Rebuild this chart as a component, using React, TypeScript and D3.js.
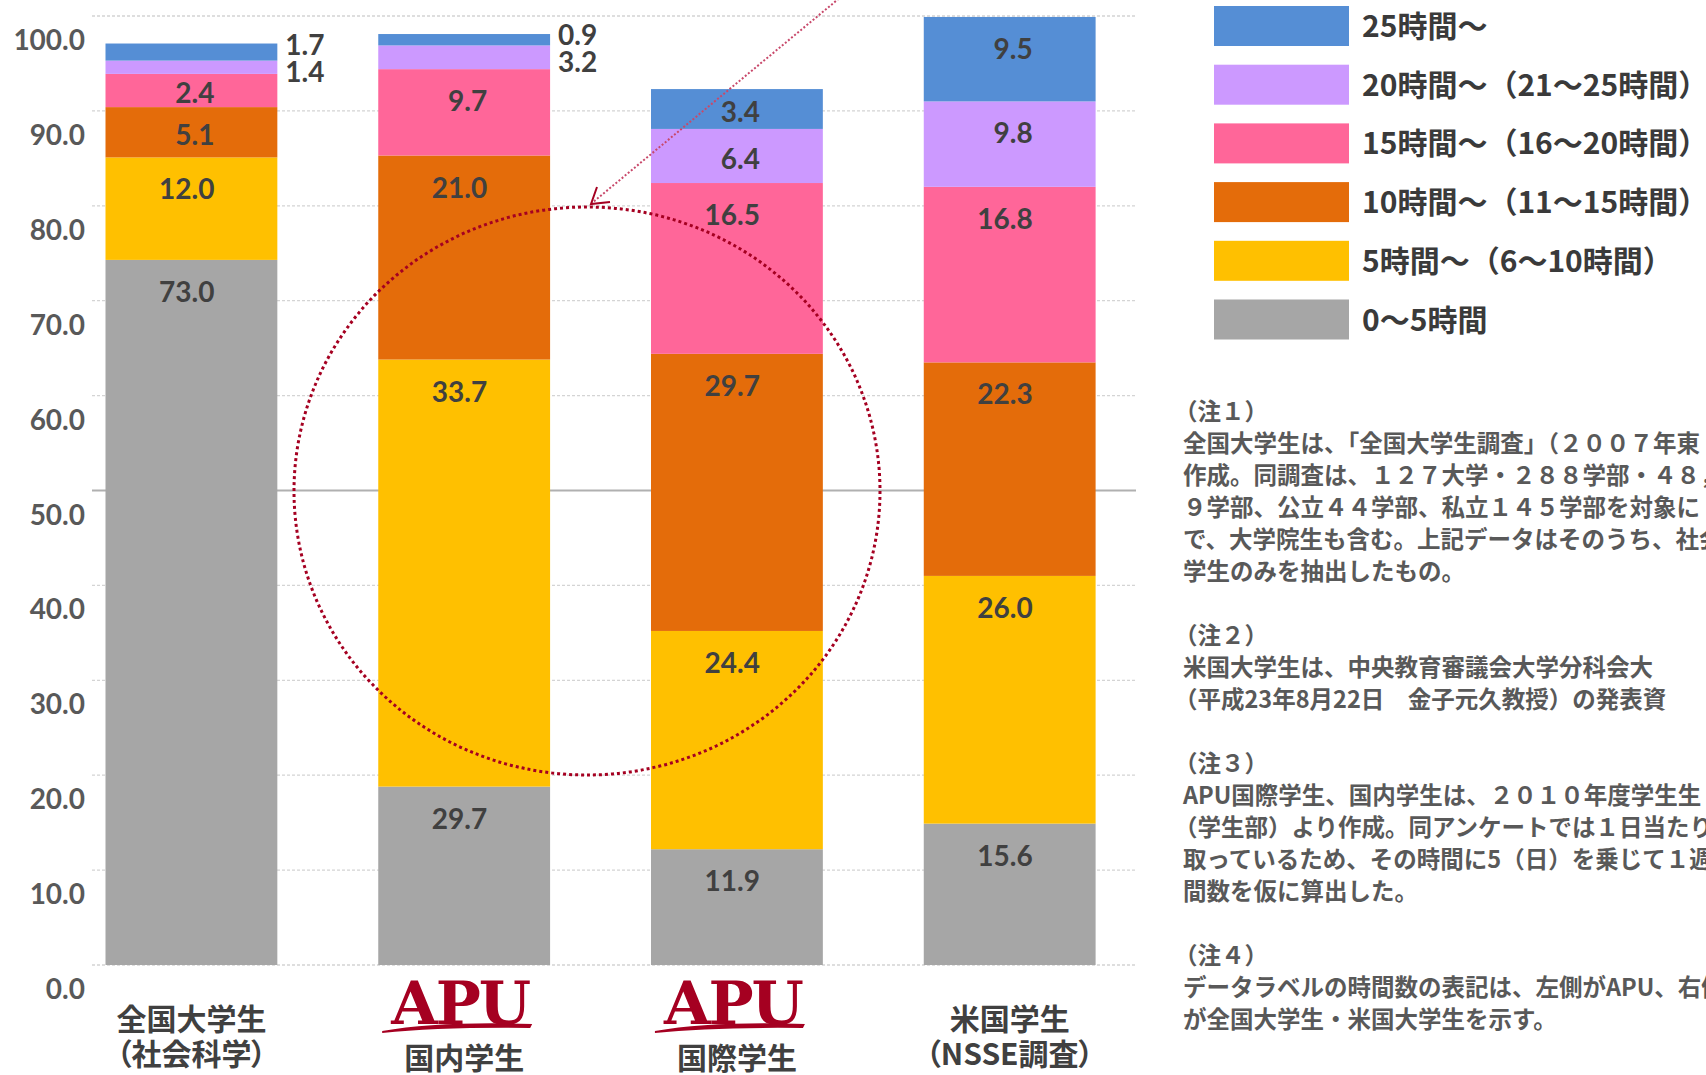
import React from "react";
import * as d3 from "d3";

const categories = ["全国大学生", "国内学生", "国際学生", "米国学生"];
const categoryLines = [["全国大学生", "（社会科学）"], ["国内学生"], ["国際学生"], ["米国学生", "（NSSE調査）"]];
const categoryHasLogo = [false, true, true, false];
const outsideTopLabels = [true, true, false, false];

const seriesKeys = ["h0", "h5", "h10", "h15", "h20", "h25"];
const seriesNames = [
  "0〜5時間",
  "5時間〜（6〜10時間）",
  "10時間〜（11〜15時間）",
  "15時間〜（16〜20時間）",
  "20時間〜（21〜25時間）",
  "25時間〜",
];
const seriesColors = ["#A6A6A6", "#FFC000", "#E46C0A", "#FF6699", "#CC99FF", "#558ED5"];

// bar segment heights as drawn in the picture (bottom to top)
const values0to5 = [74.3, 18.8, 12.2, 14.9];
const values5to10 = [10.8, 45.0, 23.0, 26.1];
const values10to15 = [5.3, 21.5, 29.2, 22.5];
const values15to20 = [3.5, 9.1, 18.0, 18.5];
const values20to25 = [1.4, 2.5, 5.7, 9.0];
const values25plus = [1.8, 1.2, 4.2, 8.9];

// printed data labels
const labels0to5 = ["73.0", "29.7", "11.9", "15.6"];
const labels5to10 = ["12.0", "33.7", "24.4", "26.0"];
const labels10to15 = ["5.1", "21.0", "29.7", "22.3"];
const labels15to20 = ["2.4", "9.7", "16.5", "16.8"];
const labels20to25 = ["1.4", "3.2", "6.4", "9.8"];
const labels25plus = ["1.7", "0.9", "3.4", "9.5"];

const yTicks = [0, 10, 20, 30, 40, 50, 60, 70, 80, 90, 100];

const noteLines = [
  "（注１）",
  "全国大学生は、「全国大学生調査」（２００７年東",
  "作成。同調査は、１２７大学・２８８学部・４８，２",
  "９学部、公立４４学部、私立１４５学部を対象に",
  "で、大学院生も含む。上記データはそのうち、社会",
  "学生のみを抽出したもの。",
  "",
  "（注２）",
  "米国大学生は、中央教育審議会大学分科会大",
  "（平成23年8月22日　金子元久教授）の発表資",
  "",
  "（注３）",
  "APU国際学生、国内学生は、２０１０年度学生生",
  "（学生部）より作成。同アンケートでは１日当たりの",
  "取っているため、その時間に5（日）を乗じて１週間",
  "間数を仮に算出した。",
  "",
  "（注４）",
  "データラベルの時間数の表記は、左側がAPU、右側",
  "が全国大学生・米国大学生を示す。",
];

const W = 1706;
const H = 1075;
const NUM_FONT = "Lato, 'Open Sans', sans-serif";
const JP_FONT = "'Noto Sans CJK JP', 'Noto Sans', sans-serif";

export default function App() {
  const seriesValues = [values0to5, values5to10, values10to15, values15to20, values20to25, values25plus];
  const seriesLabels = [labels0to5, labels5to10, labels10to15, labels15to20, labels20to25, labels25plus];
  const table = categories.map((c, i) => {
    const row: any = { cat: c, idx: i };
    seriesKeys.forEach((k, s) => (row[k] = seriesValues[s][i]));
    return row;
  });
  const stacked = d3.stack().keys(seriesKeys)(table as any);

  const y = d3.scaleLinear().domain([0, 100]).range([965, 16]);
  const x = d3.scaleBand().domain(categories).range([105.5, 1095.6]).paddingInner(0.37).paddingOuter(0);
  const bw = x.bandwidth();
  const gridX0 = 92;
  const gridX1 = 1136;

  const labelColor = "#404040";

  return (
    <div style={{ position: "fixed", left: 0, top: 0, width: W, height: H, overflow: "hidden", background: "#fff" }}>
      <svg width={W} height={H} viewBox={`0 0 ${W} ${H}`} style={{ display: "block" }}>
        <rect x={0} y={0} width={W} height={H} fill="#fff" />
        {/* gridlines */}
        {yTicks.map((t) => (
          <line
            key={"g" + t}
            x1={gridX0}
            x2={gridX1}
            y1={y(t)}
            y2={y(t)}
            stroke={t === 50 ? "#b0b0b0" : "#d4d4d4"}
            strokeWidth={t === 50 ? 2 : 1.3}
            strokeDasharray={t === 50 ? undefined : "3 2"}
          />
        ))}
        {/* y tick labels */}
        {yTicks.map((t) => (
          <text
            key={"yt" + t}
            x={85}
            y={y(t) + 23}
            textAnchor="end"
            dominantBaseline="central"
            fontFamily={NUM_FONT}
            fontWeight={700}
            fontSize={28}
            fill="#595959"
          >
            {t.toFixed(1)}
          </text>
        ))}
        {/* bars */}
        {stacked.map((layer, s) => (
          <g key={"s" + s} fill={seriesColors[s]}>
            {layer.map((d: any, i: number) => (
              <rect
                key={i}
                x={x(categories[i])}
                y={y(d[1])}
                width={bw}
                height={y(d[0]) - y(d[1])}
              />
            ))}
          </g>
        ))}
        {/* data labels */}
        {stacked.map((layer, s) =>
          layer.map((d: any, i: number) => {
            const top = y(d[1]);
            const bottom = y(d[0]);
            const cx = (x(categories[i]) as number) + bw / 2;
            const label = seriesLabels[s][i];
            if (outsideTopLabels[i] && s >= 4) {
              const barTop = y(stacked[5][i][1]);
              return (
                <text
                  key={`l${s}-${i}`}
                  x={(x(categories[i]) as number) + bw + 8}
                  y={barTop + (s === 5 ? 0 : 27)}
                  dominantBaseline="central"
                  fontFamily={NUM_FONT}
                  fontWeight={700}
                  fontSize={28}
                  fill={labelColor}
                >
                  {label}
                </text>
              );
            }
            const ly = Math.min(top + 31, (top + bottom) / 2 + 2);
            return (
              <text
                key={`l${s}-${i}`}
                x={cx + 23}
                y={ly}
                textAnchor="end"
                dominantBaseline="central"
                fontFamily={NUM_FONT}
                fontWeight={700}
                fontSize={28}
                fill={labelColor}
              >
                {label}
              </text>
            );
          })
        )}
        {/* category labels */}
        {categories.map((c, i) => {
          const cx = (x(c) as number) + bw / 2;
          const lines = categoryLines[i];
          if (categoryHasLogo[i]) {
            const lx = cx - 4;
            return (
              <g key={"c" + i}>
                <path
                  d={`M${lx - 78},${1031} Q${lx - 20},${1021} ${lx + 72},${1024} L${lx + 70},${1028} Q${lx - 20},${1027} ${lx - 78},${1033} Z`}
                  fill="#A50021"
                />
                <text
                  x={lx}
                  y={1024}
                  textAnchor="middle"
                  fontFamily="'DejaVu Serif', 'Liberation Serif', serif"
                  fontWeight={700}
                  fontSize={60}
                  fill="#A50021"
                  letterSpacing={-2}
                >
                  APU
                </text>
                <text
                  x={cx}
                  y={1056}
                  textAnchor="middle"
                  dominantBaseline="central"
                  fontFamily={JP_FONT}
                  fontWeight={700}
                  fontSize={30}
                  fill={labelColor}
                >
                  {lines[0]}
                </text>
              </g>
            );
          }
          return (
            <g key={"c" + i}>
              {lines.map((ln, k) => (
                <text
                  key={k}
                  x={cx}
                  y={1017 + k * 35}
                  textAnchor="middle"
                  dominantBaseline="central"
                  fontFamily={JP_FONT}
                  fontWeight={700}
                  fontSize={30}
                  fill={labelColor}
                  style={{ fontFeatureSettings: '"palt"' }}
                >
                  {ln}
                </text>
              ))}
            </g>
          );
        })}
        {/* annotation: dotted ellipse and arrow */}
        <ellipse cx={587} cy={491} rx={293} ry={284} fill="none" stroke="#A50021" strokeWidth={3} strokeDasharray="3 3" />
        <line x1={842} y1={-4} x2={592} y2={203} stroke="#C8486A" strokeWidth={2} strokeDasharray="2 2" />
        <polyline points="597,187 591,204 610,202" fill="none" stroke="#A50021" strokeWidth={2} />
        {/* legend */}
        {seriesNames
          .map((n, s) => ({ n, s }))
          .reverse()
          .map((d, i) => {
            const ty = 6 + i * 58.7;
            return (
              <g key={"lg" + i}>
                <rect x={1214} y={ty} width={135} height={40} fill={seriesColors[d.s]} />
                <text
                  x={1362}
                  y={ty + 18}
                  dominantBaseline="central"
                  fontFamily={JP_FONT}
                  fontWeight={700}
                  fontSize={30}
                  fill="#3a3a3a"
                >
                  {d.n}
                </text>
              </g>
            );
          })}
        {/* notes */}
        {noteLines.map((ln, i) => (
          <text
            key={"n" + i}
            x={ln.startsWith("（") ? 1174 : 1183}
            y={410 + i * 32}
            dominantBaseline="central"
            fontFamily={JP_FONT}
            fontWeight={700}
            fontSize={23.5}
            fill="#595959"
          >
            {ln}
          </text>
        ))}
      </svg>
    </div>
  );
}
